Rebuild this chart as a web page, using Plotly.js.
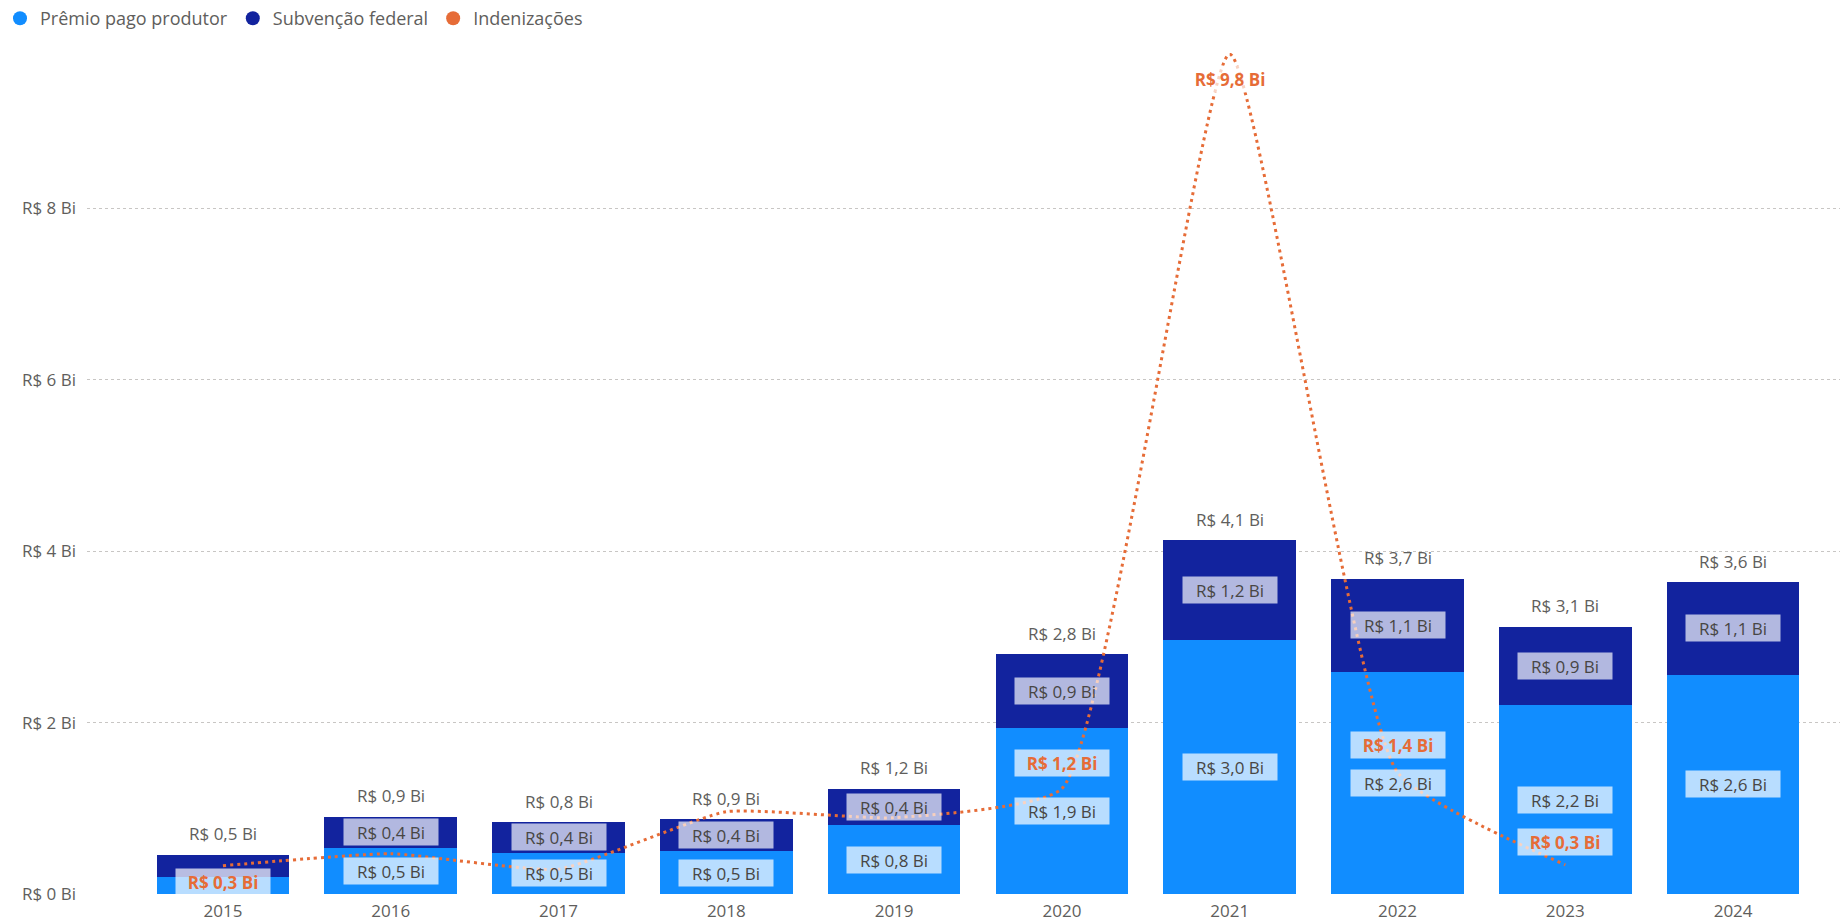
<!DOCTYPE html>
<html>
<head>
<meta charset="utf-8">
<script src="https://cdn.plot.ly/plotly-3.0.1.min.js"></script>
<style>html,body{margin:0;padding:0;background:#fff;}#chart{width:1840px;height:924px;}</style>
</head>
<body>
<div id="chart"></div>
<script>
// ---- data (R$ bilhões) ----
const years = ['2015','2016','2017','2018','2019','2020','2021','2022','2023','2024'];
const premioProdutor = [0.20, 0.54, 0.48, 0.50, 0.80, 1.94, 2.96, 2.59, 2.20, 2.56];
const subvencaoFederal = [0.26, 0.36, 0.36, 0.37, 0.43, 0.86, 1.17, 1.09, 0.92, 1.08];
const indenizacoes = [0.33, 0.47, 0.29, 0.96, 0.89, 1.23, 9.80, 1.42, 0.34, null];
const yTickVals = [0, 2, 4, 6, 8];
const seriesNames = ['Prêmio pago produtor', 'Subvenção federal', 'Indenizações'];

// ---- styling / placement ----
const C_LIGHT = '#118DFF', C_DARK = '#12239E', C_ORANGE = '#E66C37';
const FONT = '"Segoe UI", "Open Sans", sans-serif';
const indLabelShift = [-16, null, null, null, null, 26, -25, 27, 23, null]; // px, null = hidden
const minSegForLabel = 0.3;

const fmt = v => 'R$ ' + v.toFixed(1).replace('.', ',') + ' Bi';
const fmtTick = v => 'R$ ' + v + ' Bi';

const traces = [
  {type:'bar', name:seriesNames[0], x:years, y:premioProdutor, marker:{color:C_LIGHT}, showlegend:false, hoverinfo:'skip'},
  {type:'bar', name:seriesNames[1], x:years, y:subvencaoFederal, marker:{color:C_DARK}, showlegend:false, hoverinfo:'skip'},
  {type:'scatter', mode:'lines', name:seriesNames[2], x:years, y:indenizacoes,
   line:{color:C_ORANGE, width:3, dash:'3px,4px', shape:'spline', smoothing:0.45},
   connectgaps:false, showlegend:false, hoverinfo:'skip'},
  // legend entries (circle markers)
  {type:'scatter', mode:'markers', name:seriesNames[0], x:[null], y:[null], marker:{color:C_LIGHT, size:14, symbol:'circle'}},
  {type:'scatter', mode:'markers', name:seriesNames[1], x:[null], y:[null], marker:{color:C_DARK, size:14, symbol:'circle'}},
  {type:'scatter', mode:'markers', name:seriesNames[2], x:[null], y:[null], marker:{color:C_ORANGE, size:14, symbol:'circle'}}
];

const annotations = [];
const segLabel = (x, y, text, bg) => ({
  x, y, xref:'x', yref:'y', text, showarrow:false,
  font:{family:FONT, size:17, color:'#484644'},
  bgcolor:bg, borderpad:2, width:90, height:22, align:'center', valign:'middle'
});
years.forEach((yr, i) => {
  const p = premioProdutor[i], s = subvencaoFederal[i], t = p + s;
  if (p >= minSegForLabel) annotations.push(segLabel(i, p / 2, fmt(p), 'rgba(255,255,255,0.7)'));
  if (s >= minSegForLabel) annotations.push(segLabel(i, p + s / 2, fmt(s), 'rgba(255,255,255,0.68)'));
  annotations.push({x:i, y:t, xref:'x', yref:'y', text:fmt(t), showarrow:false, yanchor:'middle', yshift:21,
    font:{family:FONT, size:17, color:'#605E5C'}});
  const v = indenizacoes[i];
  if (v !== null && indLabelShift[i] !== null) {
    annotations.push({x:i, y:v, xref:'x', yref:'y', text:'<b>' + fmt(v) + '</b>', showarrow:false,
      yanchor:'middle', yshift:indLabelShift[i],
      font:{family:FONT, size:17, color:C_ORANGE},
      bgcolor:'rgba(255,255,255,0.7)', borderpad:2, width:90, height:22});
  }
});

const layout = {
  width:1840, height:924,
  margin:{l:87, r:0, t:34, b:30, pad:0},
  paper_bgcolor:'#fff', plot_bgcolor:'#fff',
  barmode:'stack', bargap:0.21,
  font:{family:FONT, color:'#605E5C'},
  showlegend:true,
  legend:{orientation:'h', xref:'container', yref:'container', x:0, y:1, xanchor:'left', yanchor:'top',
    font:{family:FONT, size:18, color:'#605E5C'}, itemwidth:30, traceorder:'normal', bgcolor:'rgba(0,0,0,0)'},
  xaxis:{type:'category', range:[-0.81, 9.637], showgrid:false, zeroline:false, showline:false, ticks:'',
    tickfont:{family:FONT, size:17, color:'#605E5C'}, ticklabelstandoff:5, fixedrange:true},
  yaxis:{range:[0, 10], tickvals:yTickVals, ticktext:yTickVals.map(fmtTick), showgrid:true,
    gridcolor:'#C8C6C4', griddash:'dot', gridwidth:1, zeroline:false, showline:false, ticks:'',
    tickfont:{family:FONT, size:17, color:'#605E5C'}, ticklabelstandoff:10, fixedrange:true},
  annotations,
  hovermode:false
};

Plotly.newPlot('chart', traces, layout, {displayModeBar:false, staticPlot:true});
</script>
</body>
</html>
